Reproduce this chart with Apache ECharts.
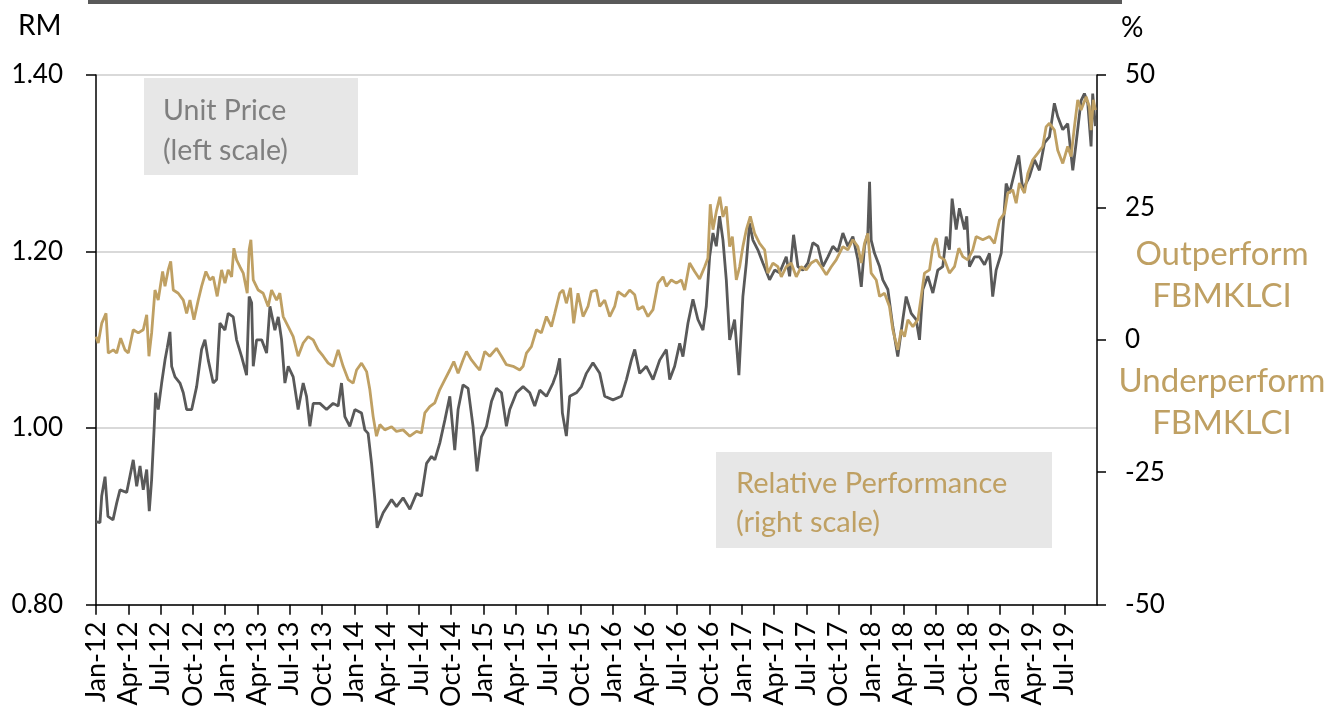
<!DOCTYPE html>
<html>
<head>
<meta charset="utf-8">
<script src="https://cdn.jsdelivr.net/npm/echarts@6/dist/echarts.min.js"></script>
<style>
html,body{margin:0;padding:0;background:#fff;}
#c{width:1332px;height:710px;}
</style>
</head>
<body>
<div id="c"></div>
<script>
// x values are months since Jan-2012 (0 = Jan-12)
const xTickLabels = ['Jan-12','Apr-12','Jul-12','Oct-12','Jan-13','Apr-13','Jul-13','Oct-13','Jan-14','Apr-14','Jul-14','Oct-14','Jan-15','Apr-15','Jul-15','Oct-15','Jan-16','Apr-16','Jul-16','Oct-16','Jan-17','Apr-17','Jul-17','Oct-17','Jan-18','Apr-18','Jul-18','Oct-18','Jan-19','Apr-19','Jul-19'];
const leftTicks = [0.80, 1.00, 1.20, 1.40];
const rightTicks = [-50, -25, 0, 25, 50];

const priceMonth = [0.00,0.37,0.53,0.84,1.11,1.58,1.92,2.23,2.85,3.46,3.78,4.09,4.39,4.71,4.95,5.17,5.41,5.54,5.78,6.10,6.41,6.62,6.87,7.03,7.34,7.80,8.11,8.42,8.89,9.35,9.81,10.12,10.43,10.89,11.21,11.51,11.98,12.28,12.75,13.06,13.53,13.99,14.23,14.46,14.61,14.92,15.39,15.85,16.16,16.62,16.93,17.24,17.55,17.86,18.32,18.78,19.25,19.56,19.87,20.18,20.80,21.42,22.03,22.50,22.81,23.12,23.58,24.05,24.67,24.98,25.28,25.60,25.91,26.12,26.68,27.46,27.92,28.53,29.16,29.78,30.24,30.71,31.17,31.48,31.94,32.41,32.87,33.33,33.64,34.10,34.57,35.03,35.40,35.81,36.28,36.74,37.21,37.67,38.13,38.44,39.06,39.68,40.30,40.76,41.23,41.85,42.46,42.78,43.08,43.33,43.70,44.01,44.63,45.10,45.56,46.17,46.80,47.26,48.03,48.81,49.28,49.74,50.05,50.51,51.13,51.75,52.37,52.99,53.30,53.76,54.23,54.53,55.00,55.46,55.92,56.39,56.70,57.01,57.32,57.63,57.94,58.25,58.56,58.87,59.33,59.73,60.10,60.42,60.72,61.03,61.49,61.96,62.58,63.05,63.51,64.13,64.44,64.81,65.21,65.67,66.14,66.60,67.07,67.53,68.00,68.46,68.92,69.39,69.85,70.32,70.78,71.10,71.40,71.71,71.87,72.02,72.33,72.80,73.10,73.57,74.03,74.49,74.96,75.27,75.74,76.20,76.51,76.82,77.28,77.75,78.21,78.67,78.99,79.29,79.54,79.92,80.22,80.69,80.90,81.15,81.62,82.08,82.55,83.01,83.31,83.63,84.10,84.56,84.87,85.33,85.73,86.10,86.72,87.19,87.65,88.12,88.58,89.04,89.35,89.82,90.28,90.75,91.06,91.52,91.83,92.14,92.45,92.60,92.85];
const priceValue = [0.894,0.893,0.923,0.945,0.900,0.896,0.915,0.930,0.927,0.964,0.934,0.957,0.930,0.953,0.906,0.942,1.002,1.040,1.021,1.051,1.077,1.091,1.109,1.070,1.058,1.051,1.040,1.021,1.021,1.047,1.089,1.100,1.077,1.051,1.055,1.119,1.111,1.130,1.126,1.100,1.081,1.060,1.149,1.142,1.070,1.100,1.100,1.085,1.138,1.111,1.126,1.100,1.051,1.070,1.058,1.021,1.051,1.036,1.002,1.028,1.028,1.021,1.028,1.025,1.051,1.013,1.002,1.021,1.017,0.998,0.994,0.960,0.919,0.887,0.904,0.919,0.911,0.921,0.908,0.926,0.923,0.960,0.968,0.964,0.983,1.009,1.036,0.975,1.021,1.049,1.045,1.002,0.951,0.990,1.002,1.030,1.045,1.040,1.002,1.021,1.040,1.047,1.040,1.025,1.043,1.036,1.051,1.062,1.079,1.017,0.991,1.036,1.040,1.047,1.062,1.074,1.062,1.036,1.032,1.036,1.055,1.077,1.089,1.062,1.070,1.055,1.077,1.089,1.055,1.070,1.096,1.081,1.119,1.146,1.123,1.111,1.138,1.194,1.221,1.206,1.240,1.213,1.168,1.100,1.123,1.060,1.149,1.187,1.232,1.213,1.202,1.187,1.168,1.179,1.176,1.194,1.172,1.219,1.183,1.179,1.187,1.210,1.206,1.183,1.194,1.206,1.200,1.221,1.206,1.217,1.191,1.160,1.206,1.221,1.279,1.213,1.198,1.183,1.168,1.157,1.115,1.081,1.123,1.149,1.130,1.123,1.100,1.157,1.172,1.153,1.179,1.183,1.217,1.202,1.260,1.225,1.249,1.225,1.240,1.183,1.194,1.194,1.185,1.198,1.149,1.179,1.198,1.277,1.266,1.289,1.309,1.270,1.285,1.304,1.292,1.323,1.330,1.368,1.353,1.338,1.345,1.292,1.323,1.371,1.379,1.368,1.319,1.379,1.342];

const relMonth = [0.00,0.21,0.53,0.93,1.14,1.61,1.92,2.29,2.69,3.00,3.46,3.93,4.39,4.71,4.92,5.17,5.48,5.78,6.19,6.41,6.71,6.94,7.18,7.64,8.11,8.42,8.73,9.10,9.50,9.81,10.21,10.58,10.89,11.26,11.67,11.98,12.28,12.60,12.81,13.06,13.37,13.68,14.05,14.23,14.39,14.61,15.07,15.53,16.00,16.31,16.78,17.08,17.39,17.86,18.32,18.78,19.25,19.71,20.18,20.64,21.11,21.57,22.03,22.50,22.96,23.43,23.89,24.21,24.67,25.14,25.44,25.75,26.06,26.37,26.83,27.46,27.92,28.53,29.16,29.78,30.24,30.55,31.01,31.48,31.94,32.41,32.87,33.24,33.64,34.10,34.42,34.88,35.35,35.65,36.12,36.58,37.21,37.67,38.13,38.75,39.37,39.68,39.99,40.45,40.92,41.38,41.85,42.31,42.62,43.08,43.39,43.70,44.08,44.38,44.78,45.25,45.71,46.02,46.49,46.80,47.26,47.73,48.19,48.50,49.12,49.58,50.05,50.35,50.82,51.28,51.75,52.21,52.68,52.99,53.45,53.92,54.38,54.69,55.15,55.62,56.08,56.55,56.85,57.07,57.32,57.63,57.96,58.25,58.56,58.87,59.12,59.49,59.80,60.10,60.42,60.79,61.19,61.65,62.12,62.42,62.89,63.35,63.67,64.13,64.59,65.06,65.52,65.99,66.45,66.92,67.38,67.85,68.31,68.77,69.39,69.85,70.32,70.78,71.10,71.40,71.71,72.02,72.49,72.80,73.26,73.72,74.03,74.49,74.81,75.12,75.43,75.89,76.36,76.67,76.97,77.44,77.75,78.06,78.37,78.83,79.29,79.76,80.16,80.53,80.99,81.46,81.77,82.39,83.01,83.47,83.94,84.40,84.71,85.17,85.49,85.79,86.26,86.57,87.03,87.49,87.96,88.27,88.58,89.04,89.35,89.82,90.28,90.59,90.90,91.21,91.52,91.99,92.29,92.45,92.66,92.85];
const relValue = [0.6,-0.6,3.1,5.0,-2.5,-1.9,-2.5,0.3,-1.9,-2.5,1.9,1.3,1.9,4.7,-3.1,1.3,9.4,7.5,12.9,10.1,13.2,14.8,9.4,8.8,7.5,5.0,7.5,3.8,7.5,10.1,12.9,11.3,11.9,8.2,13.2,10.7,13.2,11.9,17.3,15.1,13.8,12.6,8.8,17.0,18.9,11.3,9.4,8.8,6.3,9.4,7.5,8.8,4.4,2.5,0.6,-3.1,-0.6,0.6,0.0,-1.9,-3.1,-4.4,-5.0,-1.9,-5.0,-7.5,-8.2,-5.7,-4.4,-6.0,-9.4,-14.5,-18.2,-16.0,-17.0,-16.4,-17.3,-17.0,-18.2,-17.3,-17.6,-13.8,-12.6,-11.9,-9.4,-7.5,-5.7,-4.1,-6.3,-3.8,-2.2,-3.8,-5.0,-5.7,-2.2,-3.1,-1.6,-3.1,-4.7,-5.0,-5.7,-5.0,-2.5,-1.3,1.9,1.3,4.4,2.5,5.0,8.8,9.4,6.9,9.8,3.1,8.8,4.4,6.3,9.1,9.4,6.3,7.5,4.4,6.3,9.1,8.2,9.4,8.5,5.7,6.3,4.4,5.7,10.7,11.9,10.1,11.3,10.7,11.3,9.4,14.5,12.9,11.5,13.8,15.4,25.6,20.8,24.2,27.0,23.2,25.2,17.6,19.5,11.3,13.8,17.6,20.8,23.3,20.1,18.2,17.0,12.6,14.5,13.8,11.9,13.8,14.5,11.9,13.8,13.2,14.5,15.1,13.8,12.3,13.8,15.1,17.6,17.0,18.9,17.6,14.5,18.2,20.1,12.6,11.3,8.2,8.8,6.3,1.9,-1.9,1.9,0.6,3.8,2.5,3.8,8.2,12.6,13.2,17.6,19.2,15.7,15.1,12.6,13.8,17.3,15.7,15.1,17.0,19.5,18.9,19.5,18.2,22.6,23.9,27.7,28.3,25.8,29.6,27.7,31.4,34.0,35.2,36.5,40.2,40.9,39.6,35.8,33.3,36.5,34.6,40.2,45.3,43.4,45.9,44.0,39.6,45.3,43.4];

const GRAY = '#595959';
const GOLD = '#BFA063';
const FONT = 'Lato';

const tickValues = xTickLabels.map((_, i) => i * 3);
const labelByMonth = {};
xTickLabels.forEach((l, i) => { labelByMonth[i * 3] = l; });

const chart = echarts.init(document.getElementById('c'), null, {renderer: 'canvas'});
chart.setOption({
  animation: false,
  backgroundColor: '#fff',
  grid: {left: 96, right: 235, top: 75, bottom: 105, containLabel: false},
  xAxis: {
    type: 'value', min: 0, max: 93, interval: 3,
    axisLine: {show: true, onZero: false, lineStyle: {color: '#000', width: 1.5}},
    axisTick: {show: true, length: 10, lineStyle: {color: '#000', width: 1.5}, customValues: tickValues},
    axisLabel: {
      rotate: 90, margin: 17, color: '#000', fontFamily: FONT, fontSize: 27,
      customValues: tickValues,
      formatter: v => labelByMonth[Math.round(v)] || ''
    },
    splitLine: {show: false}
  },
  yAxis: [
    {
      type: 'value', min: leftTicks[0], max: leftTicks[leftTicks.length - 1], interval: 0.2, position: 'left',
      axisLine: {show: true, lineStyle: {color: '#000', width: 1.5}},
      axisTick: {show: true, length: 10, lineStyle: {color: '#000', width: 1.5}},
      axisLabel: {margin: 33, color: '#000', fontFamily: FONT, fontSize: 26, formatter: v => v.toFixed(2)},
      splitLine: {show: true, lineStyle: {color: '#D9D9D9', width: 2}}
    },
    {
      type: 'value', min: rightTicks[0], max: rightTicks[rightTicks.length - 1], interval: 25, position: 'right',
      axisLine: {show: true, lineStyle: {color: '#000', width: 1.5}},
      axisTick: {show: true, length: 9, lineStyle: {color: '#000', width: 1.5}},
      axisLabel: {margin: 28, color: '#000', fontFamily: FONT, fontSize: 26},
      splitLine: {show: false}
    }
  ],
  series: [
    {
      name: 'Unit Price', type: 'line', yAxisIndex: 0, symbol: 'none', z: 2,
      lineStyle: {color: GRAY, width: 2.8},
      data: priceMonth.map((m, i) => [m, priceValue[i]])
    },
    {
      name: 'Relative Performance', type: 'line', yAxisIndex: 1, symbol: 'none', z: 3,
      lineStyle: {color: GOLD, width: 2.8},
      data: relMonth.map((m, i) => [m, relValue[i]])
    }
  ],
  graphic: [
    {type: 'rect', shape: {x: 88, y: 0, width: 1034, height: 4}, style: {fill: GRAY}},
    {type: 'text', left: 18, top: 12, style: {text: 'RM', fill: '#000', font: '28px ' + FONT}},
    {type: 'text', left: 1121, top: 14, style: {text: '%', fill: '#000', font: '28px ' + FONT}},
    {type: 'rect', shape: {x: 144, y: 78, width: 214, height: 97}, style: {fill: '#E7E7E7'}, z: 1},
    {type: 'text', left: 163, top: 91, z: 5, style: {text: 'Unit Price\n(left scale)', fill: '#7F7F7F', font: '28.5px ' + FONT, lineHeight: 40}},
    {type: 'rect', shape: {x: 716, y: 452, width: 336, height: 96}, style: {fill: '#E7E7E7'}, z: 1},
    {type: 'text', left: 736, top: 464, z: 5, style: {text: 'Relative Performance\n(right scale)', fill: GOLD, font: '29px ' + FONT, lineHeight: 39}},
    {type: 'text', x: 1222, y: 233, z: 5, style: {text: 'Outperform\nFBMKLCI', fill: GOLD, font: '33px ' + FONT, lineHeight: 42, align: 'center'}},
    {type: 'text', x: 1222, y: 360, z: 5, style: {text: 'Underperform\nFBMKLCI', fill: GOLD, font: '33px ' + FONT, lineHeight: 42, align: 'center'}}
  ]
});
</script>
</body>
</html>
